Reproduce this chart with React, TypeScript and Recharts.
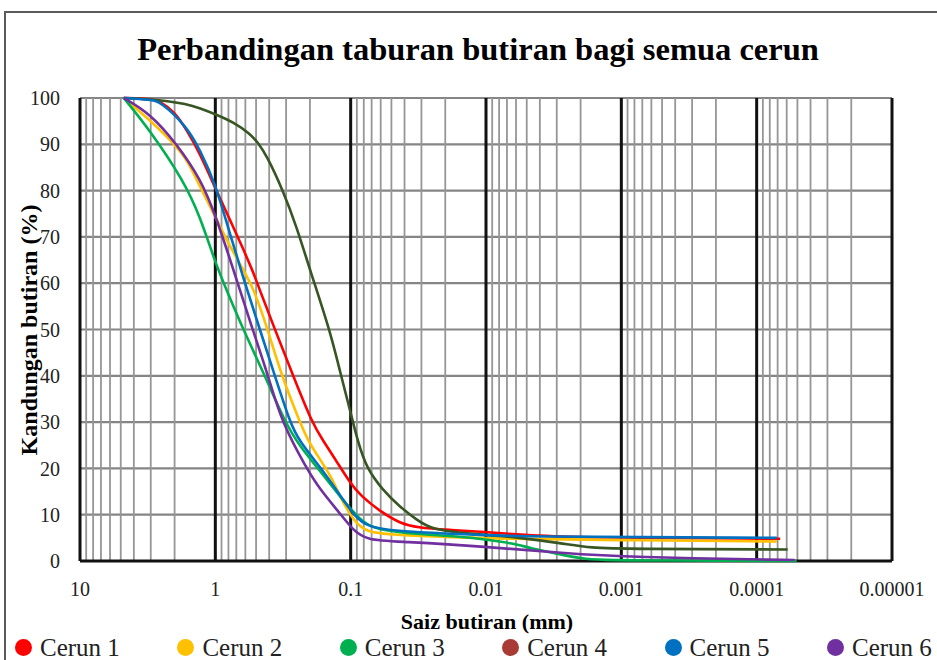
import React from 'react';
import { LineChart, Line, XAxis, YAxis, CartesianGrid, ReferenceLine } from 'recharts';

const FONT = '"Liberation Serif", "DejaVu Serif", "Times New Roman", serif';

const titleText = 'Perbandingan taburan butiran bagi semua cerun';
const xAxisTitle = 'Saiz butiran (mm)';
const yAxisTitle = 'Kandungan butiran (%)';

const xTicks = [10, 1, 0.1, 0.01, 0.001, 0.0001, 0.00001];
const xTickLabels = ['10', '1', '0.1', '0.01', '0.001', '0.0001', '0.00001'];
const yTicks = [0, 10, 20, 30, 40, 50, 60, 70, 80, 90, 100];
const minorMultipliers = [2, 3, 4, 5, 6, 7, 8, 9];
const decadeStarts = [1, 0.1, 0.01, 0.001, 0.0001, 0.00001];

const seriesNames = ['Cerun 1', 'Cerun 2', 'Cerun 3', 'Cerun 4', 'Cerun 5', 'Cerun 6'];
const lineColors = ['#FF0000', '#FFC000', '#00B050', '#375623', '#0070C0', '#7030A0'];
const legendColors = ['#FF0000', '#FFC000', '#00B050', '#A93A35', '#0070C0', '#7030A0'];

// Cerun 1 (red)
const cerun1Size = [4.75, 3.0, 2.56, 2.0, 1.62, 1.3, 1.0, 0.76, 0.625, 0.527, 0.469, 0.363, 0.266, 0.194, 0.16, 0.127, 0.1014, 0.0855, 0.0578, 0.0433, 0.0326, 0.0185, 0.0106, 0.005, 0.0027, 0.000067];
const cerun1Pct = [100, 99.8, 99.3, 97, 93, 88, 80.5, 73, 67.5, 62.5, 58.5, 50, 40, 30, 26, 21.5, 17, 14.2, 10.3, 8.2, 7.2, 6.7, 6.3, 5.6, 5.1, 4.8];

// Cerun 2 (yellow)
const cerun2Size = [4.75, 3.04, 2.27, 1.62, 1.3, 1.0, 0.8, 0.61, 0.516, 0.41, 0.324, 0.237, 0.207, 0.169, 0.138, 0.12, 0.0964, 0.0763, 0.0433, 0.01, 0.001, 0.000071];
const cerun2Pct = [100, 95.2, 91.6, 87, 80.8, 74.4, 68.5, 62.5, 58.5, 50, 40, 30, 26, 22, 18, 13.9, 8.9, 6, 5.6, 4.8, 4.5, 4.2];

// Cerun 3 (green)
const cerun3Size = [4.75, 3.04, 1.73, 1.3, 1.0, 0.825, 0.622, 0.43, 0.306, 0.237, 0.169, 0.12, 0.0855, 0.0686, 0.0433, 0.0139, 0.01, 0.0063, 0.00475, 0.0027, 0.002, 0.0015, 0.0005, 0.0000507];
const cerun3Pct = [100, 93, 82.3, 74.5, 64.4, 58.5, 50, 40, 30, 24.7, 19.5, 13.9, 8.9, 7.1, 6, 5.2, 4.6, 3.8, 2.8, 1.3, 0.6, 0.2, 0.1, 0];

// Cerun 4 (dark green line)
const cerun4Size = [4.75, 2.56, 1.62, 1.3, 1.0, 0.738, 0.555, 0.482, 0.418, 0.316, 0.251, 0.2, 0.143, 0.12, 0.1, 0.0889, 0.0763, 0.0578, 0.0433, 0.0326, 0.0247, 0.0139, 0.01, 0.0079, 0.0063, 0.0027, 0.0017, 0.00087, 0.000059];
const cerun4Pct = [100, 99.6, 98.7, 97.8, 96.5, 94.8, 92.3, 90.3, 87.6, 80, 72.2, 62.9, 50, 41, 32, 26, 20, 15.3, 11.7, 8.9, 6.7, 6.0, 5.6, 5.4, 5.2, 3.8, 2.8, 2.6, 2.5];

// Cerun 5 (blue)
const cerun5Size = [4.75, 3.0, 2.56, 1.62, 1.3, 1.0, 0.769, 0.604, 0.469, 0.363, 0.281, 0.242, 0.16, 0.12, 0.093, 0.0763, 0.0433, 0.01, 0.0063, 0.000071];
const cerun5Pct = [100, 99.6, 99.3, 93.8, 88.8, 81.6, 70, 60, 50, 40, 30, 26, 19.5, 14.2, 9.6, 7.4, 6.3, 5.6, 5.3, 5.0];

// Cerun 6 (purple)
const cerun6Size = [4.75, 3.04, 1.92, 1.3, 1.0, 0.658, 0.53, 0.407, 0.324, 0.212, 0.169, 0.12, 0.0964, 0.0763, 0.0433, 0.01, 0.0027, 0.00087, 0.0000524];
const cerun6Pct = [100, 96.7, 90, 82.7, 75, 58.5, 50, 40, 30, 20, 15.5, 10.3, 6.7, 4.5, 4.2, 3.1, 1.7, 0.8, 0.2];

const seriesSizes = [cerun1Size, cerun2Size, cerun3Size, cerun4Size, cerun5Size, cerun6Size];
const seriesPcts = [cerun1Pct, cerun2Pct, cerun3Pct, cerun4Pct, cerun5Pct, cerun6Pct];

const seriesData = seriesSizes.map((sizes, i) =>
  sizes.map((s, j) => ({ x: s, y: seriesPcts[i][j] }))
);

const minorLines = decadeStarts.flatMap((d) => minorMultipliers.map((m) => m * d));

const formatX = (v: number) => {
  const idx = xTicks.findIndex((t) => Math.abs(Math.log10(t) - Math.log10(v)) < 1e-6);
  return idx >= 0 ? xTickLabels[idx] : String(v);
};

const drawOrder = [0, 1, 2, 3, 4, 5];

export default function App() {
  return (
    <div style={{ position: 'fixed', left: 0, top: 0, width: 937, height: 660, background: '#fff', overflow: 'hidden', fontFamily: FONT }}>
      <div style={{ position: 'absolute', left: 4, top: 11, width: 960, height: 700, border: '2px solid #5a5a5a', boxSizing: 'border-box' }} />
      <LineChart
        width={937}
        height={660}
        margin={{ top: 98, right: 45, bottom: 59, left: 20 }}
        style={{ position: 'absolute', left: 0, top: 0 }}
      >
        <CartesianGrid vertical={false} stroke="#858585" strokeWidth={2.2} />
        {minorLines.map((v) => (
          <ReferenceLine key={'m' + v} x={v} stroke="#969696" strokeWidth={1.8} zIndex={-50} />
        ))}
        {xTicks.map((v) => (
          <ReferenceLine key={'M' + v} x={v} stroke="#111" strokeWidth={3} zIndex={-40} />
        ))}
        <ReferenceLine y={0} stroke="#111" strokeWidth={3} zIndex={-40} />
        <XAxis
          dataKey="x"
          type="number"
          scale="log"
          domain={[0.00001, 10]}
          reversed
          allowDataOverflow
          ticks={xTicks}
          interval={0}
          tickFormatter={formatX}
          axisLine={false}
          tickLine={false}
          tickSize={0}
          tickMargin={21}
          height={40}
          tick={{ fontFamily: FONT, fontSize: 20, fill: '#222' }}
        />
        <YAxis
          type="number"
          domain={[0, 100]}
          ticks={yTicks}
          interval={0}
          axisLine={false}
          tickLine={false}
          tickSize={0}
          tickMargin={20}
          width={60}
          tick={{ fontFamily: FONT, fontSize: 20, fill: '#222' }}
        />
        {drawOrder.map((i) => (
          <Line
            key={seriesNames[i]}
            data={seriesData[i]}
            dataKey="y"
            name={seriesNames[i]}
            type="basis"
            stroke={lineColors[i]}
            strokeWidth={2.6}
            dot={false}
            activeDot={false}
            isAnimationActive={false}
          />
        ))}
      </LineChart>
      <div style={{ position: 'absolute', left: 478, top: 58, transform: 'translate(-50%, -100%)', fontSize: 32.5, fontWeight: 'bold', whiteSpace: 'nowrap', lineHeight: 1, color: '#000' }}>
        <span style={{ display: 'inline-block', transform: 'translateY(7px)' }}>{titleText}</span>
      </div>
      <div style={{ position: 'absolute', left: 487, top: 622, transform: 'translate(-50%, -50%)', fontSize: 22, fontWeight: 'bold', whiteSpace: 'nowrap', lineHeight: 1, color: '#000' }}>
        {xAxisTitle}
      </div>
      <div style={{ position: 'absolute', left: 29, top: 330, transform: 'translate(-50%, -50%) rotate(-90deg)', fontSize: 24, fontWeight: 'bold', whiteSpace: 'nowrap', lineHeight: 1, color: '#000' }}>
        {yAxisTitle}
      </div>
      {seriesNames.map((name, i) => (
        <div key={name} style={{ position: 'absolute', left: 15 + i * 162.4, top: 635, height: 25, display: 'flex', alignItems: 'center', whiteSpace: 'nowrap', lineHeight: 1 }}>
          <span style={{ display: 'inline-block', width: 17, height: 17, borderRadius: '50%', background: legendColors[i], marginRight: 8 }} />
          <span style={{ fontSize: 25, color: '#222' }}>{name}</span>
        </div>
      ))}
    </div>
  );
}
